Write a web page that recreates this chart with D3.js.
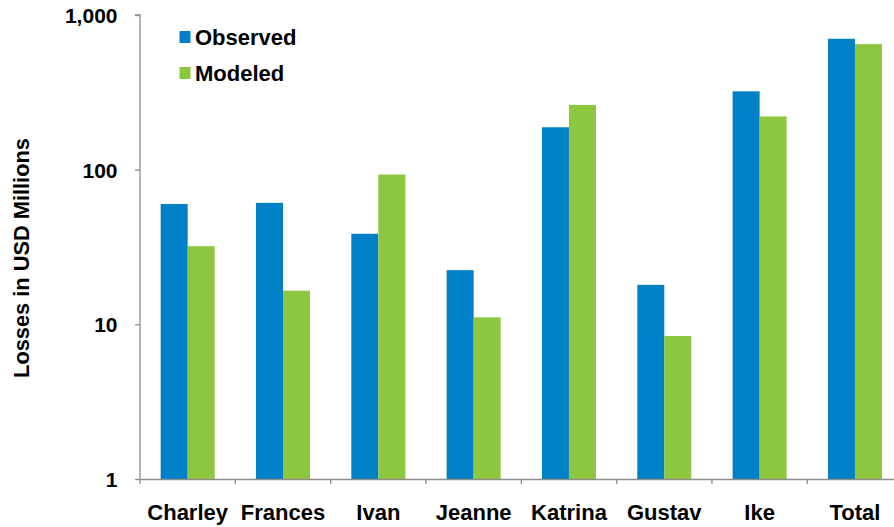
<!DOCTYPE html>
<html>
<head>
<meta charset="utf-8">
<script src="https://cdn.jsdelivr.net/npm/d3@7/dist/d3.min.js"></script>
<style>
  html, body { margin: 0; padding: 0; background: #fff; overflow: hidden; }
  svg { display: block; font-family: "Liberation Sans", Arial, sans-serif; font-weight: bold; }
</style>
</head>
<body>
<svg id="chart" width="894" height="527"></svg>
<script>
const categories = ["Charley", "Frances", "Ivan", "Jeanne", "Katrina", "Gustav", "Ike", "Total"];
const seriesNames = ["Observed", "Modeled"];
const observed = [60, 61, 38.5, 22.4, 188, 18, 321, 702];
const modeled = [32, 16.5, 93, 11.1, 262, 8.4, 221, 648];
const yTicks = [1, 10, 100, 1000];
const colors = ["#0080C6", "#8DC63F"];
const yTitle = "Losses in USD Millions";

const svg = d3.select("#chart");

const x = d3.scaleBand().domain(categories).range([140, 902.6]).paddingInner(0).paddingOuter(0);
const xs = d3.scaleBand().domain(seriesNames).range([0, x.bandwidth()]).paddingInner(0).paddingOuter(0.765);
const y = d3.scaleLog().domain([1, 1000]).range([479, 15]);
const color = d3.scaleOrdinal().domain(seriesNames).range(colors);

const rows = categories.map((c, i) => ({ cat: c, values: [
  { key: seriesNames[0], value: observed[i] },
  { key: seriesNames[1], value: modeled[i] }
]}));

// bars
const g = svg.append("g");
g.selectAll("g.cat").data(rows).join("g")
  .attr("class", "cat")
  .attr("transform", d => `translate(${x(d.cat)},0)`)
  .selectAll("rect").data(d => d.values).join("rect")
  .attr("x", d => xs(d.key))
  .attr("width", xs.bandwidth())
  .attr("y", d => y(d.value))
  .attr("height", d => y(1) - y(d.value))
  .attr("fill", d => color(d.key));

// y axis
const yAxis = d3.axisLeft(y).tickValues(yTicks).tickFormat(d3.format(",")).tickSize(5).tickPadding(17.5);
const ya = svg.append("g").attr("transform", "translate(140,0)").call(yAxis);
ya.select(".domain").attr("stroke", "#8c8c8c").attr("stroke-width", 1.3).attr("d", `M-5,${y(1000)}H0V${y(1)}`);
ya.selectAll(".tick line").attr("stroke", "#8c8c8c").attr("stroke-width", 1.3);
ya.selectAll(".tick text").attr("font-size", 21).attr("font-weight", "bold").attr("fill", "#000")
  .attr("font-family", "'Liberation Sans', Arial, sans-serif").attr("dy", "0.36em");

// x axis
const xAxis = d3.axisBottom(x).tickSize(0).tickPadding(25);
const xa = svg.append("g").attr("transform", `translate(0,${y(1)})`).call(xAxis);
xa.select(".domain").attr("stroke", "#8c8c8c").attr("stroke-width", 1.3);
xa.selectAll(".tick text").attr("font-size", 22).attr("font-weight", "bold").attr("fill", "#000")
  .attr("font-family", "'Liberation Sans', Arial, sans-serif");
const bounds = categories.map(c => x(c)).concat([x.range()[1]]);
xa.selectAll("line.bound").data(bounds).join("line")
  .attr("class", "bound")
  .attr("x1", d => d).attr("x2", d => d)
  .attr("y1", 0).attr("y2", 5)
  .attr("stroke", "#8c8c8c").attr("stroke-width", 1.3);

// y title
svg.append("text")
  .attr("transform", "translate(29,258) rotate(-90)")
  .attr("text-anchor", "middle")
  .attr("font-size", 21.8)
  .attr("fill", "#000")
  .text(yTitle);

// legend
const legend = svg.append("g");
const ly = [31, 67];
seriesNames.forEach((s, i) => {
  legend.append("rect").attr("x", 179.5).attr("y", ly[i]).attr("width", 11).attr("height", 12).attr("fill", color(s));
  legend.append("text").attr("x", 195).attr("y", ly[i] + 14).attr("font-size", 22).attr("fill", "#000").text(s);
});
</script>
</body>
</html>
